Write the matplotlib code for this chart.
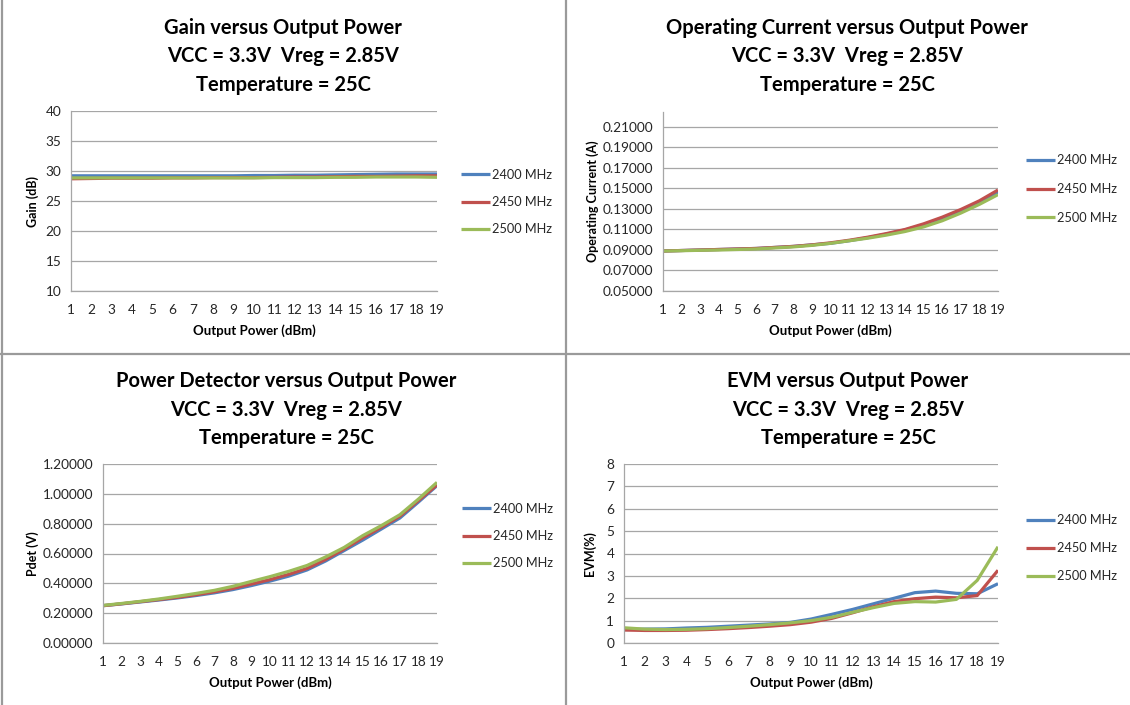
import matplotlib
matplotlib.use("Agg")
import matplotlib.pyplot as plt
from matplotlib.lines import Line2D

plt.rcParams['font.family'] = ['Lato', 'DejaVu Sans']

W, H = 1130, 705

power_dbm = list(range(1, 20))
freq_labels = ['2400 MHz', '2450 MHz', '2500 MHz']
colors = ['#4F81BD', '#C0504D', '#9BBB59']

gain_2400 = [29.2, 29.2, 29.2, 29.2, 29.2, 29.2, 29.2, 29.2, 29.2, 29.25,
             29.25, 29.3, 29.3, 29.35, 29.4, 29.45, 29.5, 29.5, 29.5]
gain_2450 = [28.7, 28.75, 28.8, 28.8, 28.8, 28.85, 28.85, 28.9, 28.9, 28.9,
             28.95, 29.0, 29.0, 29.05, 29.1, 29.1, 29.15, 29.2, 29.2]
gain_2500 = [28.85, 28.85, 28.85, 28.85, 28.85, 28.85, 28.85, 28.85, 28.85, 28.85,
             28.9, 28.9, 28.9, 28.95, 28.95, 29.0, 29.0, 29.0, 28.95]

current_2400 = [0.089, 0.0895, 0.0900, 0.0905, 0.0910, 0.0915, 0.0925, 0.0935, 0.0950, 0.0965,
                0.0990, 0.1020, 0.1055, 0.1095, 0.1145, 0.1210, 0.1280, 0.1370, 0.1465]
current_2450 = [0.089, 0.0895, 0.0900, 0.0905, 0.0910, 0.0915, 0.0925, 0.0935, 0.0950, 0.0970,
                0.0995, 0.1025, 0.1060, 0.1100, 0.1155, 0.1220, 0.1295, 0.1380, 0.1485]
current_2500 = [0.089, 0.0893, 0.0897, 0.0900, 0.0905, 0.0910, 0.0920, 0.0930, 0.0945, 0.0965,
                0.0990, 0.1015, 0.1045, 0.1080, 0.1125, 0.1185, 0.1260, 0.1345, 0.1440]

pdet_2400 = [0.250, 0.262, 0.275, 0.288, 0.302, 0.318, 0.336, 0.358, 0.385, 0.415,
             0.448, 0.490, 0.550, 0.620, 0.690, 0.764, 0.838, 0.945, 1.055]
pdet_2450 = [0.250, 0.263, 0.277, 0.291, 0.306, 0.323, 0.343, 0.366, 0.395, 0.425,
             0.460, 0.500, 0.560, 0.630, 0.705, 0.776, 0.850, 0.955, 1.060]
pdet_2500 = [0.252, 0.265, 0.279, 0.295, 0.313, 0.332, 0.353, 0.380, 0.413, 0.445,
             0.480, 0.520, 0.577, 0.641, 0.720, 0.787, 0.860, 0.965, 1.077]

evm_2400 = [0.60, 0.62, 0.63, 0.67, 0.70, 0.75, 0.80, 0.85, 0.92, 1.07,
            1.28, 1.50, 1.75, 2.00, 2.25, 2.32, 2.22, 2.20, 2.65]
evm_2450 = [0.58, 0.56, 0.56, 0.57, 0.60, 0.64, 0.69, 0.75, 0.82, 0.93,
            1.10, 1.35, 1.62, 1.85, 1.98, 2.05, 2.02, 2.12, 3.25]
evm_2500 = [0.68, 0.62, 0.60, 0.61, 0.64, 0.69, 0.75, 0.82, 0.90, 1.00,
            1.15, 1.37, 1.58, 1.77, 1.85, 1.83, 1.95, 2.80, 4.30]

subtitle = 'VCC = 3.3V  Vreg = 2.85V'
temp_line = 'Temperature = 25C'

GRID = '#A6A6A6'


def draw_panel(fig, rect, series, title, ylabel, yticks, ylim, fmt,
               title_x, title_y, legend_xy, legend_gap, xlabel_y, ylabel_x):
    """rect = (left, right, top, bottom) in pixels from the top-left corner"""
    x0, x1, ytop, ybot = rect
    ax = fig.add_axes([x0 / W, 1 - ybot / H, (x1 - x0) / W, (ybot - ytop) / H])
    for vals, c, lab in zip(series, colors, freq_labels):
        ax.plot(power_dbm, vals, color=c, lw=2.3, label=lab,
                solid_joinstyle='round', solid_capstyle='butt')
    ax.set_xlim(1, 19)
    ax.set_ylim(*ylim)
    ax.set_xticks(power_dbm)
    ax.set_yticks(yticks)
    ax.set_yticklabels([fmt.format(v) for v in yticks])
    ax.tick_params(length=0, labelsize=9.8, colors='#262626')
    ax.tick_params(axis='x', pad=9)
    ax.tick_params(axis='y', pad=7)
    ax.grid(axis='y', color=GRID, lw=0.9)
    ax.set_axisbelow(True)
    for s in ['top', 'right']:
        ax.spines[s].set_visible(False)
    for s in ['left', 'bottom']:
        ax.spines[s].set_color(GRID)
        ax.spines[s].set_linewidth(0.9)

    # titles and axis labels placed in figure pixels
    for i, line in enumerate([title, subtitle, temp_line]):
        fig.text(title_x / W, 1 - (title_y + i * 28.5) / H, line,
                 ha='center', va='center', fontsize=14.5, fontweight='bold')
    fig.text((x0 + x1) / 2 / W, 1 - xlabel_y / H, 'Output Power (dBm)',
             ha='center', va='center', fontsize=9.5, fontweight='bold')
    fig.text(ylabel_x / W, 1 - (ytop + ybot) / 2 / H, ylabel, rotation=90,
             ha='center', va='center', fontsize=9, fontweight='bold')

    leg = ax.legend(loc='center left',
                    bbox_to_anchor=(legend_xy[0] / W, 1 - legend_xy[1] / H),
                    bbox_transform=fig.transFigure, frameon=False,
                    fontsize=9.2, handlelength=2.3, handletextpad=0.12,
                    labelspacing=legend_gap, borderpad=0, borderaxespad=0)
    for t in leg.get_texts():
        t.set_color('#262626')
    return ax


fig = plt.figure(figsize=(W / 100, H / 100), dpi=100)
fig.patch.set_facecolor('white')

draw_panel(fig, (71, 437, 111, 291), [gain_2400, gain_2450, gain_2500],
           'Gain versus Output Power', 'Gain (dB)',
           [10, 15, 20, 25, 30, 35, 40], (10, 40), '{:g}',
           283, 28, (461, 202), 1.2, 331, 33)

draw_panel(fig, (663, 998, 112, 291), [current_2400, current_2450, current_2500],
           'Operating Current versus Output Power', 'Operating Current (A)',
           [0.05, 0.07, 0.09, 0.11, 0.13, 0.15, 0.17, 0.19, 0.21], (0.05, 0.2246), '{:.5f}',
           847, 28, (1026, 189), 1.3, 331, 593)

draw_panel(fig, (103, 437, 464, 643), [pdet_2400, pdet_2450, pdet_2500],
           'Power Detector versus Output Power', 'Pdet (V)',
           [0.0, 0.2, 0.4, 0.6, 0.8, 1.0, 1.2], (0, 1.2), '{:.5f}',
           286, 381, (462, 536), 1.2, 683, 33)

draw_panel(fig, (624, 998, 464, 643), [evm_2400, evm_2450, evm_2500],
           'EVM versus Output Power', 'EVM(%)',
           list(range(0, 9)), (0, 8), '{:g}',
           848, 381, (1026, 548), 1.25, 683, 590)

# panel dividers
border = '#9A9A9A'
fig.add_artist(Line2D([566 / W, 566 / W], [0, 1], color=border, lw=1.6))
fig.add_artist(Line2D([0, 1], [1 - 354 / H, 1 - 354 / H], color=border, lw=1.6))
fig.add_artist(Line2D([2 / W, 2 / W], [0, 1], color=border, lw=1.6))

fig.savefig('out.png', dpi=100)
